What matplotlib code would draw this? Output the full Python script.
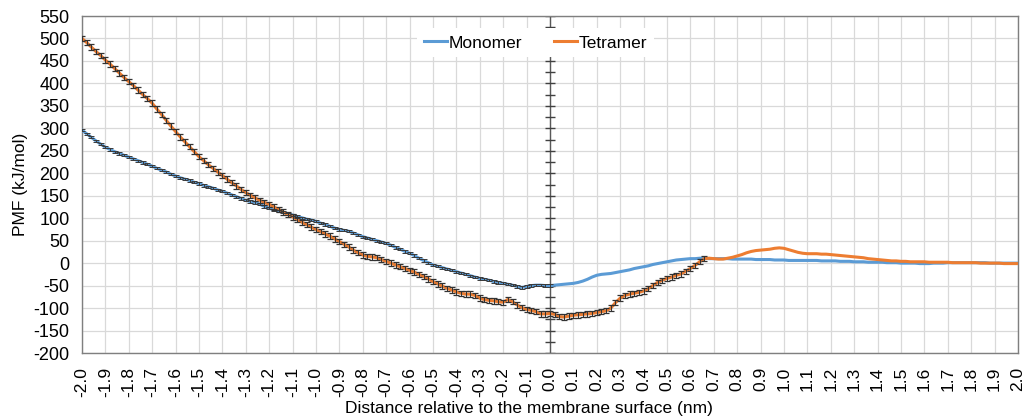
import numpy as np
import matplotlib
matplotlib.use('Agg')
import matplotlib.pyplot as plt

plt.rcParams['font.family'] = ['Liberation Sans', 'DejaVu Sans']
plt.rcParams['font.size'] = 12.5
plt.rcParams['axes.unicode_minus'] = False

## Data: PMF profiles, 0.02 nm spacing from -2.0 to 2.0 nm
dist = np.round(np.linspace(-2.0, 2.0, 201), 2)

monomer = [
    296, 288, 280, 272, 265, 258, 253, 248, 244, 240,
    236, 232, 228, 224, 220, 216, 211, 207, 203, 198,
    194, 190, 187, 184, 180, 177, 173, 170, 167, 163,
    160, 156, 152, 148, 144, 140, 137, 135, 131, 126,
    122, 119, 116, 113, 110, 107, 104, 101, 98, 96,
    93, 89, 86, 82, 78, 75, 73, 71, 67, 63,
    59, 56, 53, 50, 47, 44, 40, 35, 31, 26,
    22, 17, 11, 6, 1, -4, -7, -10, -13, -16,
    -19, -22, -25, -28, -31, -34, -36, -38, -41, -43,
    -45, -47, -49, -52, -54, -52, -50, -49, -49, -50,
    -50, -49, -48, -47, -46, -45, -43, -40, -36, -31,
    -27, -25, -24, -23, -21, -19, -17, -15, -12, -10,
    -8, -6, -3, -1, 1, 3, 5, 7, 8, 9,
    10, 10, 11, 11, 10, 10, 10, 10, 10, 9,
    9, 9, 9, 9, 8, 8, 8, 8, 7, 7,
    7, 6, 6, 6, 6, 6, 6, 6, 5, 5,
    5, 5, 4, 4, 4, 3, 3, 3, 2, 2,
    2, 2, 1, 1, 1, 0, 0, 0, 0, -1,
    -1, -1, 0, 0, 0, 1, 1, 1, 1, 1,
    1, 1, 1, 1, 0, 0, 0, 0, 0, 0,
    0,
]

tetramer = [
    500, 491, 481, 471, 462, 452, 443, 433, 423, 413,
    404, 395, 385, 375, 366, 356, 343, 331, 318, 305,
    293, 281, 270, 259, 248, 237, 228, 219, 211, 203,
    195, 187, 179, 172, 164, 157, 151, 145, 140, 135,
    131, 125, 120, 114, 108, 103, 97, 91, 86, 80,
    75, 70, 65, 60, 54, 48, 42, 36, 29, 23,
    18, 15, 14, 12, 8, 4, 0, -4, -8, -12,
    -16, -20, -25, -30, -35, -41, -46, -51, -56, -60,
    -64, -67, -69, -69, -72, -78, -81, -83, -84, -86,
    -87, -81, -86, -93, -99, -103, -105, -108, -113, -113,
    -112, -114, -119, -120, -118, -116, -115, -114, -113, -112,
    -110, -108, -106, -100, -88, -78, -72, -69, -67, -65,
    -62, -57, -50, -43, -38, -34, -31, -27, -24, -18,
    -12, -5, 3, 10, 11, 10, 9, 9, 11, 13,
    16, 19, 23, 26, 28, 29, 30, 31, 33, 34,
    33, 30, 27, 24, 22, 21, 21, 21, 20, 20,
    19, 18, 17, 16, 15, 14, 13, 12, 10, 9,
    8, 7, 6, 5, 5, 4, 4, 3, 3, 3,
    3, 2, 2, 2, 2, 2, 1, 1, 1, 1,
    1, 1, 0, 0, 0, 0, 0, -1, -1, -1,
    -1,
]

# error bars (kJ/mol) and the last distance where they are shown
mono_err, mono_err_end = 2.5, 0.0
tetra_err, tetra_err_end = 6.0, 0.66

xticks = np.round(np.linspace(-2.0, 2.0, 41), 1)
yticks = np.arange(-200, 551, 50)

c_mono = '#5B9BD5'
c_tetra = '#ED7D31'

## Plot
fig = plt.figure(figsize=(10.27, 4.18), dpi=100)
ax = fig.add_axes([0.0798, 0.1555, 0.9114, 0.8062])

ax.set_xlim(-2.0, 2.0)
ax.set_ylim(-200, 550)
ax.set_xticks(xticks)
ax.set_xticklabels(['%.1f' % t for t in xticks], rotation=90)
ax.set_yticks(yticks)
ax.tick_params(length=0, labelcolor='#000000')
ax.tick_params(axis='y', pad=9, labelsize=13)
ax.tick_params(axis='x', pad=10)
ax.grid(True, color='#d9d9d9', lw=0.9)
ax.set_axisbelow(True)
for s in ax.spines.values():
    s.set_color('#7f7f7f')
    s.set_linewidth(1.0)

# vertical axis through x = 0 with cross ticks
ax.axvline(0, color='#595959', lw=1.0, zorder=2)
ax.plot(np.zeros(31), np.arange(-200, 551, 25), ls='none', marker='_',
        ms=7, mew=1.0, color='#404040', zorder=2)

dist_a = np.array(dist)
mono_a = np.array(monomer, dtype=float)
tetra_a = np.array(tetramer, dtype=float)

ax.plot(dist_a, mono_a, color=c_mono, lw=2.2, label='Monomer', zorder=3)
ax.plot(dist_a, tetra_a, color=c_tetra, lw=2.2, label='Tetramer', zorder=3)

m = dist_a <= mono_err_end + 1e-9
ax.errorbar(dist_a[m], mono_a[m], yerr=mono_err, fmt='none', ecolor='#3a3a3a',
            elinewidth=0.7, capsize=2.0, capthick=0.7, zorder=4)
t = dist_a <= tetra_err_end + 1e-9
ax.errorbar(dist_a[t], tetra_a[t], yerr=tetra_err, fmt='none', ecolor='#333333',
            elinewidth=0.8, capsize=2.4, capthick=0.9, zorder=4)

# axis titles centred on the whole plot area (tick labels included)
ax.set_xlabel('Distance relative to the membrane surface (nm)')
ax.xaxis.set_label_coords(0.4776, -0.142)
ax.set_ylabel('PMF (kJ/mol)', labelpad=4)

leg = ax.legend(loc='center', bbox_to_anchor=(0.4845, 0.92), ncol=2,
                frameon=True, fancybox=False, edgecolor='none', framealpha=1,
                handlelength=1.3, handletextpad=0.1, columnspacing=1.85,
                borderpad=0.4)
leg.set_zorder(5)

fig.savefig('out.png', dpi=100)
